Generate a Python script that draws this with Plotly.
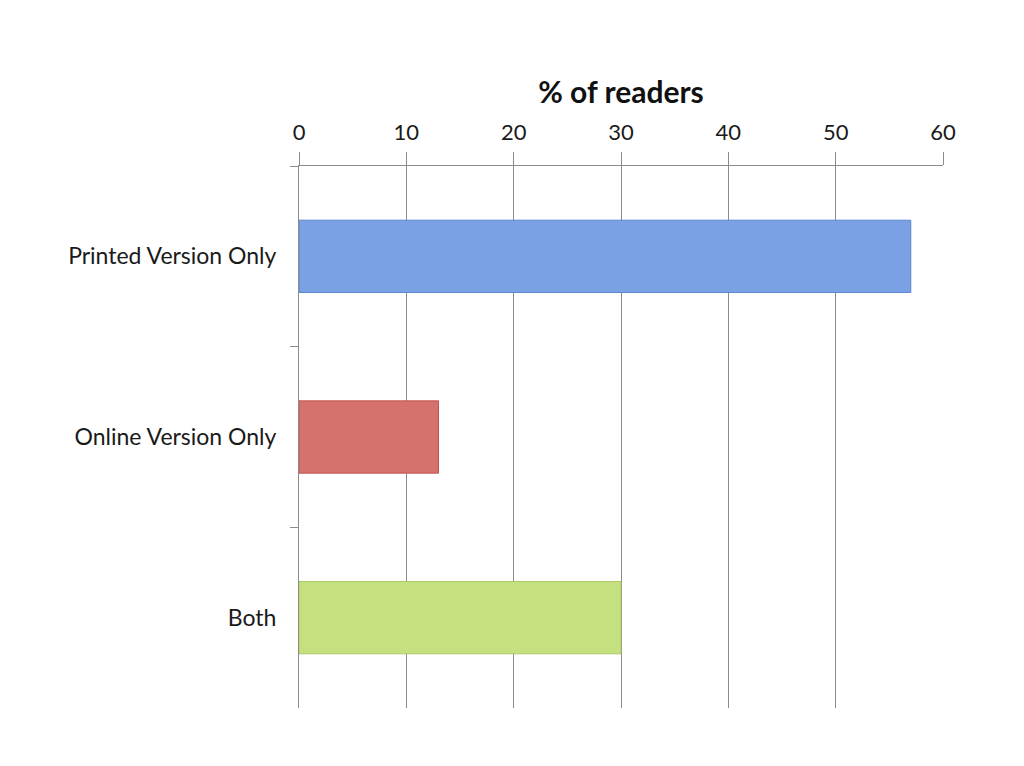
import plotly.graph_objects as go

categories = ["Printed Version Only", "Online Version Only", "Both"]
percent_readers = [57, 13, 30]
bar_colors = ["#7aa1e4", "#d6726e", "#c4e07f"]
bar_edges = ["#5a86cf", "#c4524f", "#acc967"]
x_ticks = [0, 10, 20, 30, 40, 50, 60]

fig = go.Figure()
fig.add_trace(go.Bar(
    x=percent_readers,
    y=categories,
    orientation="h",
    width=0.4,
    marker=dict(color=bar_colors, line=dict(color=bar_edges, width=1)),
    hoverinfo="x+y",
))

grid = "#8c8c8c"
fig.update_layout(
    width=1024, height=766,
    # page body adds ~8px, so margins are shifted by that amount
    margin=dict(l=291, r=89, t=158, b=66),
    paper_bgcolor="white", plot_bgcolor="white",
    font=dict(family="Lato, Open Sans, sans-serif", size=22, color="#1a1a1a"),
    showlegend=False,
    xaxis=dict(
        side="top",
        range=[0, 60],
        tickvals=x_ticks,
        showgrid=True, gridcolor=grid, gridwidth=1,
        zeroline=False,
        showline=True, linecolor=grid, linewidth=1,
        ticks="outside", ticklen=13, tickcolor=grid,
        ticklabelstandoff=3,
        title=dict(text="<b>% of readers</b>", font=dict(size=30, color="#111"), standoff=5),
    ),
    yaxis=dict(
        type="category",
        autorange="reversed",
        tickson="boundaries",
        showgrid=False,
        showline=True, linecolor=grid, linewidth=1,
        ticks="outside", ticklen=8, tickcolor=grid,
        ticklabelstandoff=17,
        tickfont=dict(size=23),
    ),
    # faint page frame on the left and right edges
    shapes=[
        dict(type="line", xref="paper", yref="paper", x0=-0.463, x1=-0.463, y0=-0.2, y1=1.4,
             line=dict(color="#e3e3e3", width=1)),
        dict(type="line", xref="paper", yref="paper", x0=1.122, x1=1.122, y0=-0.2, y1=1.4,
             line=dict(color="#e3e3e3", width=1)),
    ],
)

fig.write_html("out.html")
